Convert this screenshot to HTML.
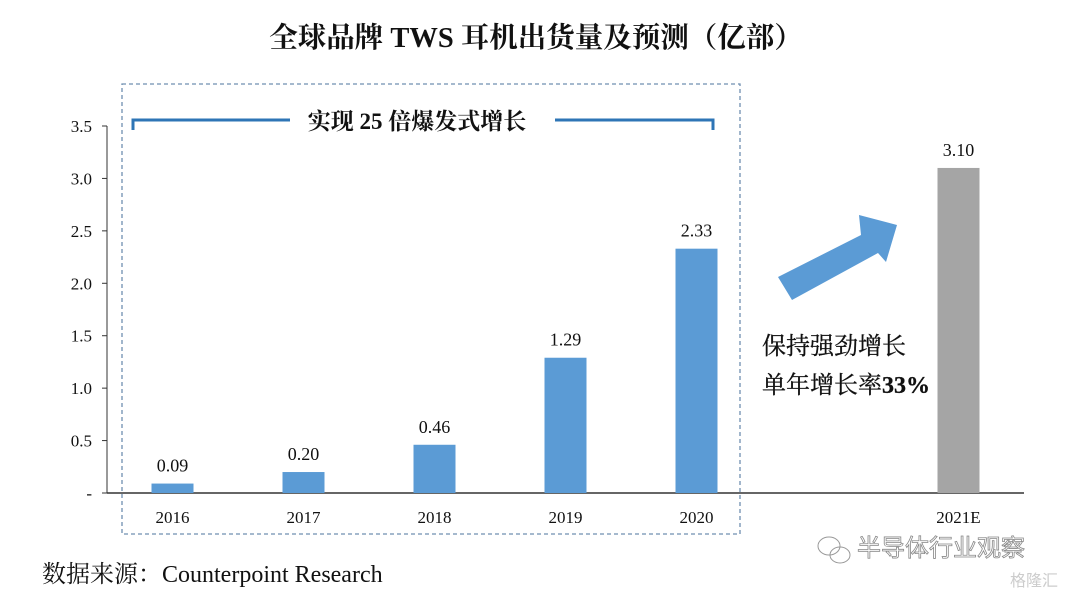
<!DOCTYPE html>
<html><head><meta charset="utf-8"><style>
body{margin:0;background:#fff;}
svg{display:block;font-family:"Liberation Serif","Noto Serif CJK SC",serif;}
</style></head><body>
<svg id="c" width="1080" height="595" viewBox="0 0 1080 595">
<text x="536" y="47" text-anchor="middle" font-size="28.5" font-weight="bold" fill="#111">全球品牌 TWS 耳机出货量及预测（亿部）</text>
<rect x="122" y="84" width="618" height="450" fill="none" stroke="#6f8fb0" stroke-width="1.3" stroke-dasharray="4,3"/>
<path d="M133,130 V120 H290 M555,120 H713 V130" fill="none" stroke="#2e75b6" stroke-width="3"/>
<text x="417" y="129" text-anchor="middle" font-size="23" font-weight="bold" fill="#111">实现 25 倍爆发式增长</text>
<g id="axes"></g>
<g id="bars"></g>
<polygon points="778,277 861,235 859,215 897,225 886,262 878,253 792,300" fill="#5b9bd5"/>
<text x="762" y="354" font-size="24" fill="#111" stroke="#111" stroke-width="0.3">保持强劲增长</text>
<text x="762" y="393" font-size="24" fill="#111" stroke="#111" stroke-width="0.3">单年增长率<tspan font-weight="bold">33%</tspan></text>
<text x="42" y="582" font-size="24" fill="#111">数据来源：Counterpoint Research</text>
<text x="857" y="556" font-size="24" fill="#fff" stroke="#888" stroke-width="0.8" font-family="Liberation Sans,Noto Sans CJK SC,sans-serif">半导体行业观察</text>
<g fill="none" stroke="#999"><ellipse cx="829" cy="546" rx="11" ry="9"/><ellipse cx="840" cy="555" rx="10" ry="8"/></g>
<text x="1010" y="586" font-size="16" fill="#ccc" font-family="Liberation Sans,Noto Sans CJK SC,sans-serif">格隆汇</text>
</svg>
<script>
const categories=["2016","2017","2018","2019","2020","","2021E"];
const values=[0.09,0.20,0.46,1.29,2.33,null,3.10];
const valueLabels=["0.09","0.20","0.46","1.29","2.33","","3.10"];
const ticks=[0,0.5,1,1.5,2,2.5,3,3.5];
const tickLabels=["-","0.5","1.0","1.5","2.0","2.5","3.0","3.5"];
const NS="http://www.w3.org/2000/svg";
const x0=107,x1=1024,y0=493,yTop=126;
const bw=(x1-x0)/categories.length;
const y=v=>y0-(v/3.5)*(y0-yTop);
const xc=i=>x0+bw*(i+0.5);
function mk(t,a,p){const e=document.createElementNS(NS,t);for(const k in a)e.setAttribute(k,a[k]);p.appendChild(e);return e;}
const ax=document.getElementById('axes'),bg=document.getElementById('bars');
const ya=mk('line',{x1:x0,y1:yTop,x2:x0,y2:y0,stroke:'#333','stroke-width':1},ax);


ticks.forEach((t,i)=>{
 const tk=mk('line',{x1:x0-5,y1:y(t),x2:x0,y2:y(t),stroke:'#333'},ax);
 
 
 const tl=mk('text',{x:x0-15,y:y(t)+6,'text-anchor':'end','font-size':17,fill:'#111'},ax);
 tl.textContent=tickLabels[i];
 
 
});
const xa=mk('line',{x1:x0,y1:y0,x2:x1,y2:y0,stroke:'#333','stroke-width':1.5},ax);


categories.forEach((c,i)=>{
 const cl=mk('text',{x:xc(i),y:523,'text-anchor':'middle','font-size':17,fill:'#111'},ax);
 cl.textContent=c;
 
 
 const v=values[i];
 if(v==null)return;
 const r=mk('rect',{x:xc(i)-21,y:y(v),width:42,height:y0-y(v),fill:c.endsWith('E')?'#a5a5a5':'#5b9bd5'},bg);
 
 
 const vl=mk('text',{x:xc(i),y:y(v)-12,'text-anchor':'middle','font-size':18,fill:'#111'},bg);
 vl.textContent=valueLabels[i];
 
 
});
</script>
</body></html>
